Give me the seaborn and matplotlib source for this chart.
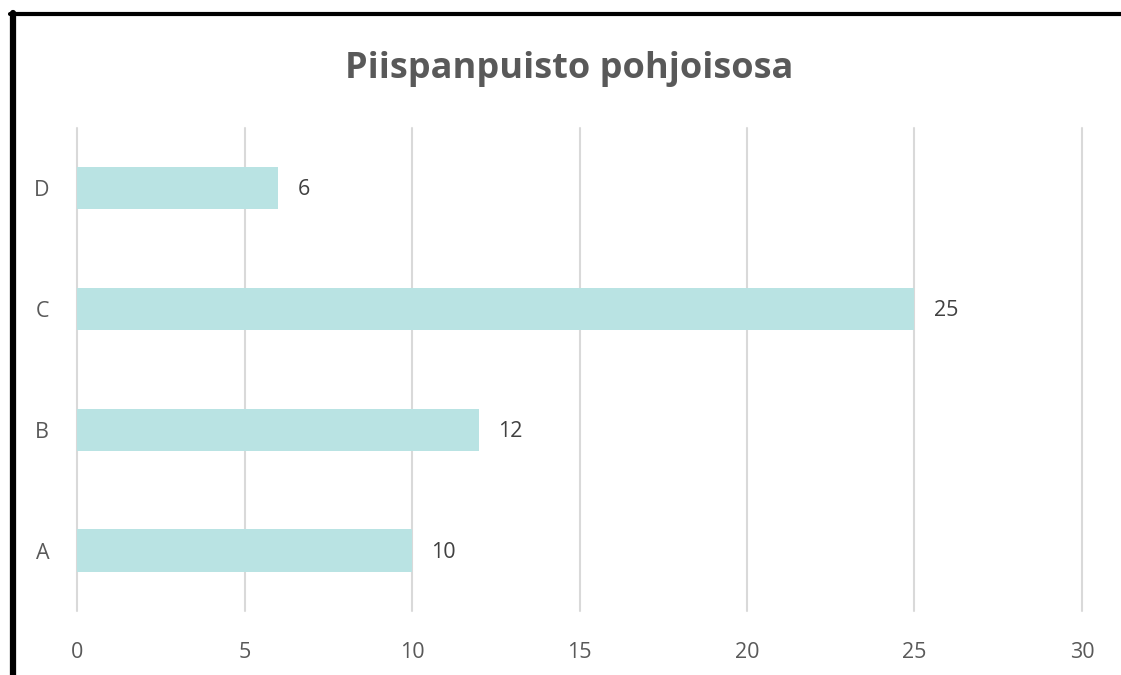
import matplotlib
matplotlib.use("Agg")
import matplotlib.pyplot as plt
import seaborn as sns
import pandas as pd

categories = ["D", "C", "B", "A"]
values = [6, 25, 12, 10]
x_ticks = [0, 5, 10, 15, 20, 25, 30]
title = "Piispanpuisto pohjoisosa"

sns.set_theme(style="white")
plt.rcParams["font.family"] = ["Open Sans", "DejaVu Sans"]

df = pd.DataFrame({"cat": categories, "val": values})

fig = plt.figure(figsize=(11.21, 6.75), dpi=100)
ax = fig.add_axes([0.0687, 0.0948, 0.8965, 0.7156])

sns.barplot(data=df, x="val", y="cat", order=categories, color="#B9E3E3",
            saturation=1, width=0.35, ax=ax, zorder=3, linewidth=0,
            edgecolor="none")

ax.set_xlim(0, 30)
ax.set_xticks(x_ticks)
ax.set_xticklabels([str(t) for t in x_ticks])
ax.grid(axis="x", color="#D9D9D9", linewidth=1.5, zorder=0)
ax.set_axisbelow(True)
for gl in ax.get_xgridlines():
    gl.set_clip_on(False)
for s in ax.spines.values():
    s.set_visible(False)
ax.set_xlabel("")
ax.set_ylabel("")
ax.tick_params(axis="x", colors="#595959", labelsize=15.5, length=0, pad=22)
ax.tick_params(axis="y", colors="#595959", labelsize=15.5, length=0, pad=20)

for p, v in zip(ax.patches, values):
    y = p.get_y() + p.get_height() / 2
    ax.annotate(str(v), (p.get_width(), y), xytext=(14, -1), textcoords="offset points",
                va="center", ha="left", fontsize=15.5, color="#404040")

fig.text(0.508, 0.898, title, ha="center", va="center", fontsize=26,
         fontweight="bold", color="#595959")

# border lines (left and top) as in the reference image
fig.add_artist(plt.Line2D([0.0116, 0.0116], [0, 0.981], transform=fig.transFigure,
                          color="black", linewidth=4.5))
fig.add_artist(plt.Line2D([0.0089, 1.0], [0.979, 0.979], transform=fig.transFigure,
                          color="black", linewidth=3))

fig.savefig("out.png", dpi=100)
